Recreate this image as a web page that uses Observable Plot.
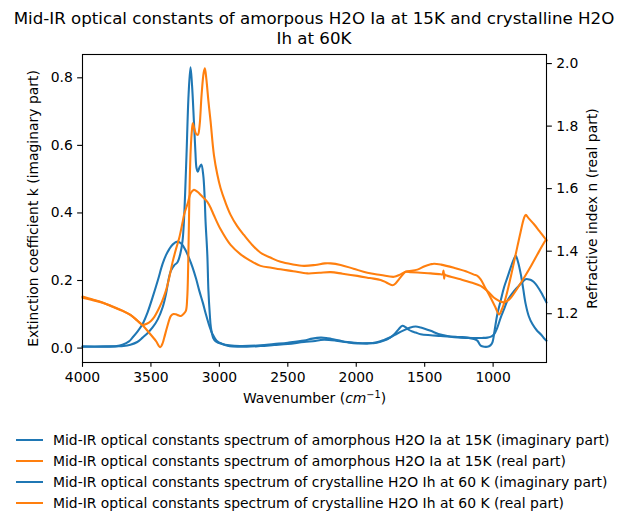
<!DOCTYPE html>
<html><head><meta charset="utf-8">
<script src="https://cdn.jsdelivr.net/npm/d3@7"></script>
<script src="https://cdn.jsdelivr.net/npm/@observablehq/plot@0.6"></script>
<style>
body{margin:0;background:#fff;font-family:"DejaVu Sans",sans-serif;}
#wrap{position:relative;width:626px;height:527px;overflow:hidden;background:#fff}
#title{position:absolute;left:0;top:9px;width:628px;text-align:center;font-size:16.67px;line-height:20px;color:#000}
#chart{position:absolute;left:0;top:46px}
#legend{position:absolute;left:16px;top:430px;font-size:13.9px;color:#000}
.row{display:flex;align-items:center;height:20.8px;white-space:nowrap}
.sw{width:27px;height:2.08px;margin-right:10px}
</style></head>
<body>
<div id="wrap">
  <div id="title">Mid-IR optical constants of amorpous H2O Ia at 15K and crystalline H2O<br>Ih at 60K</div>
  <div id="chart"></div>
  <div id="legend"></div>
</div>
<script>
// ---- data ----
const amKW = [4000,3850,3750,3708,3660,3635,3600,3561,3525,3488,3450,3415,3390,3366,3340,3306,3275,3245,3220,3196,3170,3147,3120,3099,3075,3050,3020,2977,2940,2904,2800,2700,2600,2500,2382,2300,2260,2200,2150,2065,1990,1919,1850,1797,1750,1720,1690,1663,1640,1620,1590,1566,1529,1456,1383,1300,1237,1150,1080,1042,1015,993,970,944,920,896,860,822,790,762,735,713,690,664,640,610];
const amK  = [0.005,0.005,0.006,0.010,0.020,0.031,0.048,0.071,0.105,0.150,0.200,0.249,0.275,0.293,0.307,0.315,0.308,0.288,0.265,0.239,0.205,0.170,0.133,0.101,0.068,0.041,0.022,0.012,0.007,0.005,0.004,0.006,0.009,0.012,0.018,0.021,0.024,0.024,0.022,0.017,0.014,0.014,0.016,0.022,0.032,0.042,0.056,0.066,0.062,0.055,0.049,0.046,0.041,0.038,0.036,0.033,0.031,0.030,0.030,0.031,0.034,0.041,0.060,0.091,0.115,0.140,0.162,0.180,0.194,0.204,0.203,0.199,0.190,0.175,0.158,0.135];

const crKW = [4000,3850,3750,3700,3650,3600,3561,3525,3488,3450,3415,3390,3370,3354,3330,3306,3285,3269,3259,3250,3240,3225,3211,3200,3186,3175,3167,3157,3145,3132,3118,3108,3101,3088,3080,3070,3062,3045,3026,2980,2928,2850,2700,2602,2500,2382,2320,2260,2220,2180,2120,2065,1990,1919,1850,1797,1750,1700,1650,1610,1566,1529,1456,1400,1334,1250,1188,1140,1115,1100,1091,1065,1042,1020,1005,990,969,945,920,895,871,850,835,818,798,780,762,740,713,680,652,630,610];
const crK  = [0.004,0.004,0.005,0.006,0.010,0.018,0.031,0.044,0.061,0.085,0.120,0.160,0.205,0.229,0.245,0.254,0.280,0.318,0.375,0.460,0.573,0.750,0.831,0.780,0.671,0.580,0.533,0.522,0.535,0.543,0.513,0.450,0.375,0.276,0.170,0.100,0.061,0.030,0.020,0.012,0.008,0.006,0.008,0.012,0.016,0.022,0.028,0.031,0.030,0.027,0.022,0.018,0.015,0.014,0.017,0.024,0.032,0.043,0.053,0.060,0.064,0.061,0.051,0.042,0.036,0.033,0.031,0.027,0.022,0.012,0.007,0.004,0.004,0.008,0.017,0.050,0.101,0.140,0.180,0.210,0.239,0.262,0.273,0.255,0.219,0.175,0.130,0.095,0.071,0.052,0.041,0.030,0.022];

const amNW = [4000,3930,3854,3780,3708,3650,3610,3580,3561,3530,3500,3475,3451,3420,3391,3365,3342,3318,3293,3270,3257,3230,3210,3186,3160,3130,3088,3060,3040,2991,2918,2845,2775,2699,2620,2553,2460,2357,2270,2187,2100,1992,1900,1822,1780,1736,1710,1688,1660,1639,1600,1529,1456,1383,1370,1362,1358,1352,1340,1237,1160,1091,1040,993,960,932,900,871,820,774,720,676,640,616,610];
const amN  = [1.251,1.244,1.235,1.222,1.209,1.196,1.182,1.170,1.164,1.168,1.177,1.190,1.209,1.238,1.273,1.318,1.365,1.405,1.443,1.490,1.518,1.555,1.585,1.596,1.590,1.577,1.558,1.535,1.515,1.470,1.420,1.390,1.370,1.353,1.347,1.342,1.336,1.329,1.331,1.333,1.328,1.321,1.314,1.308,1.300,1.291,1.298,1.310,1.325,1.334,1.333,1.331,1.329,1.326,1.326,1.338,1.312,1.325,1.322,1.310,1.300,1.289,1.272,1.251,1.242,1.237,1.240,1.251,1.283,1.315,1.355,1.390,1.418,1.435,1.436];

const crNW = [4000,3930,3854,3780,3708,3650,3610,3561,3513,3464,3432,3415,3403,3380,3354,3335,3318,3295,3281,3262,3245,3235,3228,3220,3210,3200,3194,3185,3170,3157,3145,3130,3115,3106,3095,3080,3064,3040,3015,2991,2955,2918,2870,2821,2760,2699,2620,2553,2470,2382,2300,2230,2187,2114,2020,1919,1820,1724,1680,1639,1553,1500,1456,1432,1380,1286,1200,1140,1115,1091,1060,1018,985,957,935,908,870,835,800,775,762,740,701,660,616,610];
const crN  = [1.255,1.246,1.236,1.223,1.210,1.196,1.182,1.163,1.139,1.113,1.093,1.105,1.123,1.160,1.193,1.199,1.198,1.194,1.193,1.199,1.209,1.250,1.350,1.550,1.720,1.790,1.809,1.795,1.775,1.772,1.800,1.900,1.970,1.985,1.950,1.880,1.814,1.708,1.645,1.601,1.555,1.516,1.480,1.452,1.420,1.395,1.378,1.366,1.358,1.353,1.356,1.361,1.361,1.356,1.344,1.331,1.324,1.318,1.325,1.334,1.341,1.352,1.358,1.360,1.357,1.347,1.336,1.325,1.321,1.310,1.285,1.251,1.222,1.198,1.215,1.251,1.320,1.390,1.460,1.505,1.516,1.505,1.486,1.463,1.438,1.434];

const xTicks = [4000,3500,3000,2500,2000,1500,1000];
const kTicks = [0.0,0.2,0.4,0.6,0.8];
const nTicks = [1.2,1.4,1.6,1.8,2.0];
const xLimits = [4000, 610];
const kLimits = [-0.0427, 0.869];
const nLimits = [1.044, 2.029];

const seriesNames = [
  "Mid-IR optical constants spectrum of amorphous H2O Ia at 15K (imaginary part)",
  "Mid-IR optical constants spectrum of amorphous H2O Ia at 15K (real part)",
  "Mid-IR optical constants spectrum of crystalline H2O Ih at 60 K (imaginary part)",
  "Mid-IR optical constants spectrum of crystalline H2O Ih at 60 K (real part)"
];
const seriesColors = ["#1f77b4","#ff7f0e","#1f77b4","#ff7f0e"];

// ---- map n (right axis) into the k scale ----
const nToK = n => kLimits[0] + (n - nLimits[0]) / (nLimits[1] - nLimits[0]) * (kLimits[1] - kLimits[0]);
const kToN = k => nLimits[0] + (k - kLimits[0]) / (kLimits[1] - kLimits[0]) * (nLimits[1] - nLimits[0]);

const amKData = amKW.map((w,i) => ({w, v: amK[i]}));
const crKData = crKW.map((w,i) => ({w, v: crK[i]}));
const amNData = amNW.map((w,i) => ({w, v: nToK(amN[i])}));
const crNData = crNW.map((w,i) => ({w, v: nToK(crN[i])}));

const lw = 2.08;
const tk = 4.86;
const chart = Plot.plot({
  width: 626, height: 372,
  marginTop: 8, marginBottom: 56, marginLeft: 82, marginRight: 80,
  x: {domain: xLimits},
  y: {domain: kLimits},
  style: {fontFamily: "DejaVu Sans", fontSize: "13.9px", color: "#000", background: "white", overflow: "visible"},
  marks: [
    Plot.line(amKData, {x: "w", y: "v", stroke: seriesColors[0], strokeWidth: lw, curve: "catmull-rom"}),
    Plot.line(crKData, {x: "w", y: "v", stroke: seriesColors[2], strokeWidth: lw, curve: "catmull-rom"}),
    Plot.line(amNData, {x: "w", y: "v", stroke: seriesColors[1], strokeWidth: lw, curve: "catmull-rom"}),
    Plot.line(crNData, {x: "w", y: "v", stroke: seriesColors[3], strokeWidth: lw, curve: "catmull-rom"}),
    Plot.frame({stroke: "#000", strokeWidth: 1.1}),
    Plot.axisX({ticks: xTicks, tickSize: tk, tickPadding: tk, tickFormat: d => String(d), strokeWidth: 1.1,
      label: "Wavenumber (cm-1)", labelAnchor: "center", labelArrow: "none", labelOffset: 40}),
    Plot.axisY({anchor: "left", ticks: kTicks, tickSize: tk, tickPadding: tk, tickFormat: d3.format(".1f"), strokeWidth: 1.1,
      label: "Extinction coefficient k (imaginary part)", labelAnchor: "center", labelArrow: "none", labelOffset: 54}),
    Plot.axisY({anchor: "right", ticks: nTicks.map(nToK), tickSize: tk, tickPadding: tk, tickFormat: d => kToN(d).toFixed(1), strokeWidth: 1.1,
      label: "Refractive index n (real part)", labelAnchor: "center", labelArrow: "none", labelOffset: 50})
  ]
});
document.getElementById("chart").appendChild(chart);

// italic math-style unit in the x label
const xl = d3.select(chart).select('[aria-label="x-axis label"] text');
if (!xl.empty()) {
  xl.text(null);
  xl.append("tspan").text("Wavenumber (");
  xl.append("tspan").attr("font-style", "italic").text("cm");
  xl.append("tspan").attr("dy", "-0.45em").attr("font-size", "70%").text("\u22121");
  xl.append("tspan").attr("dy", "0.315em").text(")");
}

// legend
const lg = d3.select("#legend");
seriesNames.forEach((name, i) => {
  const r = lg.append("div").attr("class", "row");
  r.append("div").attr("class", "sw").style("background", seriesColors[i]);
  r.append("span").text(name);
});
</script>
</body></html>
